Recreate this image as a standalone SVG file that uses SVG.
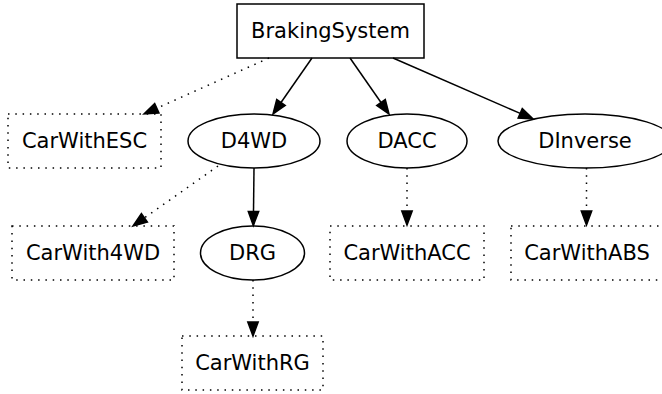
<svg xmlns="http://www.w3.org/2000/svg" width="662" height="394" viewBox="0 0 662 394">
  <style>
    .shape { fill: none; stroke: #000; stroke-width: 1.5; }
    .dot { stroke-dasharray: 1.5 5.8; }
    .label { font-family: "DejaVu Sans", sans-serif; font-size: 21px; fill: #000; text-anchor: middle; }
    .edge { fill: none; stroke: #000; stroke-width: 1.5; marker-end: url(#head); }
  </style>
  <defs>
    <marker id="head" markerUnits="userSpaceOnUse" viewBox="0 -5.5 15 11" markerWidth="15" markerHeight="11" refX="0" refY="0" orient="auto" overflow="visible">
      <path d="M0,-5.2 L14,0 L0,5.2 Z" fill="#000" stroke="#000" stroke-width="1.5"/>
    </marker>
  </defs>
  <rect width="662" height="394" fill="#fff"/>

  <g id="connectors">
    <path class="edge dot" d="M269,58 L156.8,108.2"/>
    <path class="edge" d="M312,58 L281,102.5"/>
    <path class="edge" d="M350,58 L381,102.5"/>
    <path class="edge" d="M393,58 L520.2,113.4"/>
    <path class="edge dot" d="M218,166 L144.4,217.9"/>
    <path class="edge" d="M254,168 L253.5,211.5"/>
    <path class="edge dot" d="M407,168 L407,211"/>
    <path class="edge dot" d="M586.5,168 L586.5,211"/>
    <path class="edge dot" d="M253,280 L253,322"/>
  </g>

  <g id="BrakingSystem">
    <rect class="shape" x="237" y="4" width="187" height="54"/>
    <text class="label" x="330.5" y="38">BrakingSystem</text>
  </g>
  <g id="CarWithESC">
    <rect class="shape dot" x="8" y="114" width="153" height="54"/>
    <text class="label" x="84.5" y="148">CarWithESC</text>
  </g>
  <g id="D4WD">
    <ellipse class="shape" cx="254" cy="141" rx="66" ry="27"/>
    <text class="label" x="254" y="148">D4WD</text>
  </g>
  <g id="DACC">
    <ellipse class="shape" cx="407" cy="141" rx="60" ry="27"/>
    <text class="label" x="407" y="148">DACC</text>
  </g>
  <g id="DInverse">
    <ellipse class="shape" cx="585" cy="141" rx="87" ry="27"/>
    <text class="label" x="585" y="148">DInverse</text>
  </g>
  <g id="CarWith4WD">
    <rect class="shape dot" x="12" y="226" width="162" height="54"/>
    <text class="label" x="93" y="260">CarWith4WD</text>
  </g>
  <g id="DRG">
    <ellipse class="shape" cx="252.5" cy="253" rx="52" ry="27"/>
    <text class="label" x="252.5" y="260">DRG</text>
  </g>
  <g id="CarWithACC">
    <rect class="shape dot" x="330" y="226" width="154" height="54"/>
    <text class="label" x="407" y="260">CarWithACC</text>
  </g>
  <g id="CarWithABS">
    <rect class="shape dot" x="511" y="226" width="152" height="54"/>
    <text class="label" x="587" y="260">CarWithABS</text>
  </g>
  <g id="CarWithRG">
    <rect class="shape dot" x="182" y="336" width="141" height="54"/>
    <text class="label" x="252.5" y="370">CarWithRG</text>
  </g>
</svg>
